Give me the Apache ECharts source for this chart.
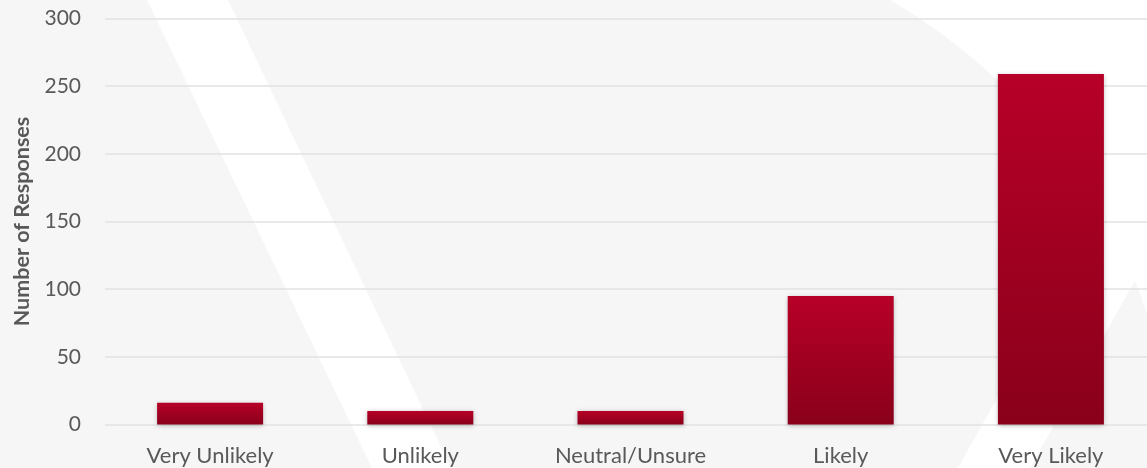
<!DOCTYPE html>
<html>
<head>
<meta charset="utf-8">
<script src="https://cdn.jsdelivr.net/npm/echarts@6/dist/echarts.min.js"></script>
<style>
html,body{margin:0;padding:0;background:#f6f6f6;}
#c{width:1147px;height:468px;}
</style>
</head>
<body>
<div id="c"></div>
<script>
const categories = ["Very Unlikely", "Unlikely", "Neutral/Unsure", "Likely", "Very Likely"];
const responses = [16, 10, 10, 95, 259];
const yTicks = [0, 50, 100, 150, 200, 250, 300];
const yAxisTitle = "Number of Responses";

const chart = echarts.init(document.getElementById('c'), null, {renderer: 'canvas'});
const textColor = '#595959';
const font = 'Lato, "Open Sans", sans-serif';

chart.setOption({
  backgroundColor: '#f6f6f6',
  animation: false,
  graphic: [
    {type: 'rect', z: -10, silent: true, shape: {x: 888, y: 0, width: 260, height: 468}, style: {fill: '#ffffff'}},
    {type: 'circle', z: -9, silent: true, shape: {cx: 600, cy: 500, r: 578}, style: {fill: '#f6f6f6'}},
    {type: 'polygon', z: -8, silent: true, shape: {points: [[147,0],[228,0],[451,468],[372,468]]}, style: {fill: '#ffffff'}},
    {type: 'polygon', z: -8, silent: true, shape: {points: [[958,468],[1030,468],[1180,200],[1108,200]]}, style: {fill: '#ffffff'}}
  ],
  grid: {left: 105, top: 18.5, width: 1051, height: 406, containLabel: false, outerBoundsMode: 'none'},
  xAxis: {
    type: 'category',
    data: categories,
    axisLine: {show: false},
    axisTick: {show: false},
    axisLabel: {color: textColor, fontSize: 22, fontFamily: font, margin: 20}
  },
  yAxis: {
    type: 'value',
    min: yTicks[0],
    max: yTicks[yTicks.length - 1],
    interval: 50,
    name: yAxisTitle,
    nameLocation: 'middle',
    nameGap: 71,
    nameTextStyle: {color: textColor, fontSize: 21.5, fontWeight: 'bold', fontFamily: font},
    axisLine: {show: false},
    axisTick: {show: false},
    axisLabel: {color: textColor, fontSize: 21, fontFamily: font, margin: 24},
    splitLine: {lineStyle: {color: '#e2e2e2', width: 1.5}}
  },
  series: [{
    type: 'bar',
    data: responses,
    barWidth: 106,
    itemStyle: {
      color: new echarts.graphic.LinearGradient(0, 0, 0, 1, [
        {offset: 0, color: '#b70027'},
        {offset: 1, color: '#89001a'}
      ]),
      shadowBlur: 5,
      shadowColor: 'rgba(0,0,0,0.28)',
      shadowOffsetY: 1
    }
  }]
});
</script>
</body>
</html>
